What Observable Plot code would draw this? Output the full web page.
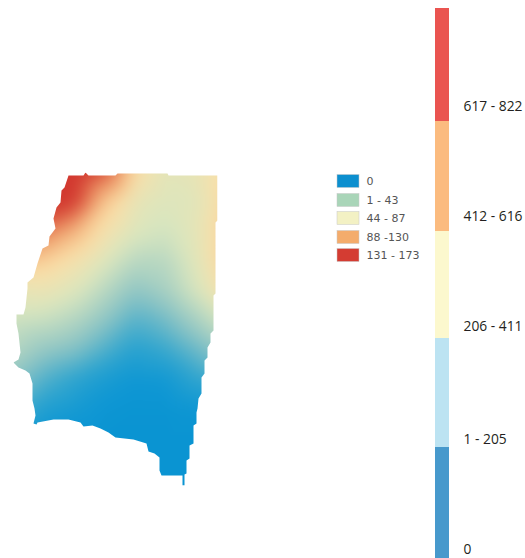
<!DOCTYPE html>
<html>
<head>
<meta charset="utf-8">
<script src="https://cdn.jsdelivr.net/npm/d3@7"></script>
<script src="https://cdn.jsdelivr.net/npm/@observablehq/plot@0.6"></script>
<style>html,body{margin:0;padding:0;background:#fff}svg{display:block}</style>
</head>
<body>
<div id="chart"></div>
<script>
// Field samples: column positions, row positions, values (0-173)
const gridX = [0, 15, 45, 75, 105, 135, 165, 195, 225, 240];
const gridY = [160, 170, 200, 230, 260, 290, 320, 350, 380, 410, 440, 500];
const gridValues = [
  [173, 173, 173, 173, 165, 105, 84, 85, 100, 104],
  [173, 173, 173, 173, 155, 100, 82, 85, 100, 104],
  [173, 173, 173, 168, 112, 85, 78, 80, 104, 108],
  [155, 150, 142, 120, 95, 78, 72, 82, 108, 112],
  [118, 115, 108, 95, 78, 62, 62, 80, 108, 112],
  [88, 85, 88, 78, 62, 46, 55, 74, 100, 104],
  [72, 70, 68, 60, 46, 30, 38, 55, 74, 78],
  [62, 60, 48, 42, 28, 16, 22, 35, 50, 54],
  [46, 45, 28, 18, 10, 5, 6, 18, 25, 28],
  [25, 25, 12, 8, 3, 1, 1, 3, 6, 6],
  [5, 5, 2, 0, 0, 0, 0, 0, 0, 0],
  [0, 0, 0, 0, 0, 0, 0, 0, 0, 0]
];
// Colour ramp of the map
const rampValues = [0, 5, 20, 45, 75, 100, 130, 165, 173];
const rampColors = ["#0a94d2", "#0f97d3", "#2fa5cf", "#8cc4c4", "#d9e6bf", "#fbe0a9", "#ef9f6a", "#d2382f", "#d2382f"];
// State outline
const outline = [
  [68,175],[83,175],[85,172],[88,175],[115,175],[117,173],[167,173],[168,175],[217,175],
  [217,220],[215,222],[215,293],[213,295],[213,330],[210,333],[210,342],[207,347],[207,357],
  [204,360],[204,373],[201,377],[201,393],[198,398],[197,408],[196,412],[196,423],[193,425],
  [193,443],[189,445],[189,458],[186,460],[186,473],[184,474],[184,485],[182,485],[182,475],
  [161,475],[159,470],[159,457],[154,453],[148,451],[146,443],[133,439],[115,437],[108,432],
  [100,428],[92,425],[83,426],[80,422],[68,419],[53,419],[37,422],[36,424],[33,423],
  [35,415],[34,408],[32,400],[32,383],[29,373],[25,370],[18,367],[13,362],[18,359],[20,352],
  [18,333],[16,323],[16,314],[23,314],[25,307],[27,288],[27,282],[33,277],[37,263],[42,248],
  [48,245],[49,236],[55,228],[53,218],[56,207],[60,202],[61,190],[64,187],[68,175]
];
// Small legend of the map
const mapLegendLabels = ["0", "1 - 43", "44 - 87", "88 -130", "131 - 173"];
const mapLegendColors = ["#0c8fcf", "#a9d5b8", "#f3f1c4", "#f4ac6c", "#d43c32"];
const mapLegendCenters = [181, 200, 218, 237, 255];
// Colour bar on the right
const barLabels = ["617 - 822", "412 - 616", "206 - 411", "1 - 205", "0"];
const barColors = ["#ea5450", "#fbbb7f", "#fcf8ce", "#bce3f2", "#4799cc"];
const barEdges = [8, 121, 231, 338, 447, 558];
const barLabelY = [106, 216, 326, 439, 549];

const samples = gridY.flatMap((y, r) => gridX.map((x, c) => ({x, y, v: gridValues[r][c]})));
const outlinePts = outline.map(([x, y]) => ({x, y}));
const mapLegend = mapLegendLabels.map((label, i) => ({label, color: mapLegendColors[i], y: mapLegendCenters[i]}));
const bar = barLabels.map((label, i) => ({label, color: barColors[i], y1: barEdges[i], y2: barEdges[i + 1], ly: barLabelY[i]}));

function clipToOutline(index, scales, values, dims, context, next) {
  const g = next(index, scales, values, dims, context);
  const id = "map-outline-clip";
  const cp = d3.create("svg:clipPath").attr("id", id);
  cp.append("path").attr("d", d3.line()(outlinePts.map(p => [scales.x(p.x), scales.y(p.y)])) + "Z");
  g.insertBefore(cp.node(), g.firstChild);
  g.setAttribute("clip-path", `url(#${id})`);
  return g;
}

const plot = Plot.plot({
  width: 525, height: 558,
  marginTop: 0, marginRight: 0, marginBottom: 0, marginLeft: 0,
  x: {domain: [0, 525], axis: null},
  y: {domain: [558, 0], axis: null},
  color: {type: "linear", domain: rampValues, range: rampColors, interpolate: "rgb"},
  marks: [
    Plot.raster(samples, {x: "x", y: "y", fill: "v", x1: 0, x2: 240, y1: 495, y2: 165,
      interpolate: "barycentric", pixelSize: 1, blur: 8, render: clipToOutline}),
    Plot.rect(mapLegend, {x1: () => 337, x2: () => 359, y1: d => d.y - 6.5, y2: d => d.y + 6.5, fill: d => d.color, stroke: "#c8c8c8", strokeWidth: 0.5}),
    Plot.text(mapLegend, {x: () => 366, y: "y", text: "label", textAnchor: "start", fill: "#555",
      fontSize: 11, fontFamily: "DejaVu Sans"}),
    Plot.rect(bar, {x1: () => 435, x2: () => 449, y1: "y1", y2: "y2", fill: d => d.color}),
    Plot.text(bar, {x: () => 463, y: "ly", text: "label", textAnchor: "start", fill: "#231f20",
      fontSize: 13.8, fontFamily: "Open Sans"})
  ]
});
document.getElementById("chart").appendChild(plot);
</script>
</body>
</html>
